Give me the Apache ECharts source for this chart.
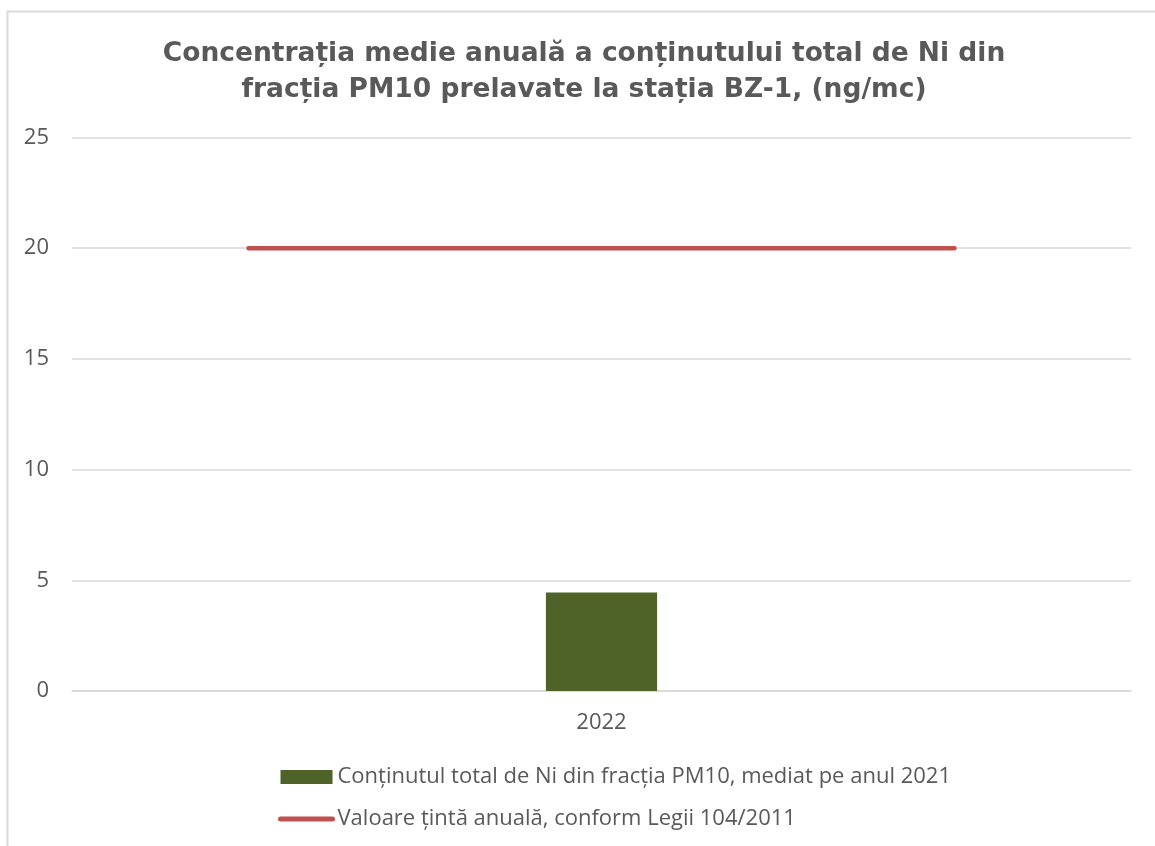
<!DOCTYPE html>
<html>
<head>
<meta charset="utf-8">
<script src="https://cdn.jsdelivr.net/npm/echarts@6/dist/echarts.min.js"></script>
<style>
html,body{margin:0;padding:0;background:#fff;}
#chart{width:1155px;height:846px;}
</style>
</head>
<body>
<div id="chart"></div>
<script>
const titleText = 'Concentrația medie anuală a conținutului total de Ni din\nfracția PM10 prelavate la stația BZ-1, (ng/mc)';
const categories = ['2022'];
const barName = 'Conținutul total de Ni din fracția PM10, mediat pe anul 2021';
const barValues = [4.45];
const lineName = 'Valoare țintă anuală, conform Legii 104/2011';
const lineCategories = ['1', '2', '3'];
const lineValues = [20, 20, 20];
const yTicks = { min: 0, max: 25, interval: 5 };

const chart = echarts.init(document.getElementById('chart'), null, { renderer: 'canvas' });
chart.setOption({
  backgroundColor: '#ffffff',
  animation: false,
  graphic: [{
    type: 'rect',
    shape: { x: 7.5, y: 11.5, width: 1300, height: 1000 },
    style: { fill: 'none', stroke: '#d9d9d9', lineWidth: 2 },
    silent: true
  }],
  title: {
    text: titleText,
    left: 584,
    textAlign: 'center',
    top: 36,
    padding: 0,
    textStyle: {
      fontFamily: 'DejaVu Sans, sans-serif',
      fontWeight: 'bold',
      fontSize: 26.5,
      color: '#595959',
      lineHeight: 36
    }
  },
  grid: { left: 72, right: 24, top: 137.5, bottom: 155, containLabel: false },
  legend: {
    orient: 'vertical',
    left: 278,
    top: 766,
    padding: 0,
    itemWidth: 52,
    itemHeight: 14,
    itemGap: 20,
    textStyle: { fontFamily: 'Open Sans, sans-serif', fontSize: 22, color: '#595959' },
    data: [
      { name: barName, icon: 'rect' },
      { name: lineName, itemStyle: { opacity: 0 }, lineStyle: { width: 5, cap: 'round', color: '#c0504d' } }
    ]
  },
  xAxis: [{
    type: 'category',
    data: categories,
    axisLine: { show: true, lineStyle: { color: '#d9d9d9', width: 1.5 } },
    axisTick: { show: false },
    axisLabel: { fontFamily: 'Open Sans, sans-serif', fontSize: 22, color: '#595959', margin: 21 }
  }, {
    type: 'category',
    data: lineCategories,
    show: false,
    boundaryGap: true
  }],
  yAxis: {
    type: 'value',
    min: yTicks.min,
    max: yTicks.max,
    interval: yTicks.interval,
    axisLine: { show: false },
    axisTick: { show: false },
    axisLabel: { fontFamily: 'Open Sans, sans-serif', fontSize: 22, color: '#595959', margin: 23 },
    splitLine: { lineStyle: { color: '#d9d9d9', width: 1.5 } }
  },
  series: [{
    name: barName,
    type: 'bar',
    xAxisIndex: 0,
    data: barValues,
    barWidth: '10.5%',
    itemStyle: { color: '#4f6228' }
  }, {
    name: lineName,
    type: 'line',
    xAxisIndex: 1,
    data: lineValues,
    symbol: 'none',
    lineStyle: { color: '#c0504d', width: 4.5, cap: 'round' },
    itemStyle: { color: '#c0504d' }
  }]
});
</script>
</body>
</html>
